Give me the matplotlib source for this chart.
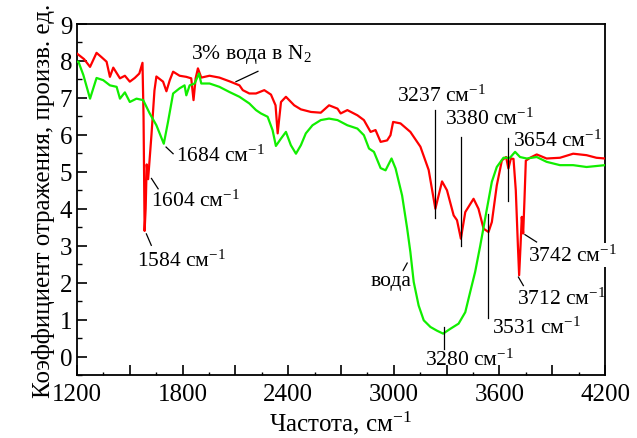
import matplotlib
matplotlib.use("Agg")
import matplotlib.pyplot as plt
from matplotlib.ticker import MultipleLocator

plt.rcParams['font.family'] = ['Liberation Serif', 'DejaVu Serif']
plt.rcParams['mathtext.fontset'] = 'custom'
plt.rcParams['mathtext.rm'] = 'Liberation Serif'
plt.rcParams['mathtext.it'] = 'Liberation Serif:italic'
plt.rcParams['mathtext.bf'] = 'Liberation Serif:bold'

# ---- data: 3% water in N2 (red) ----
red_x = [1200, 1240, 1274, 1311, 1340, 1368, 1387, 1406, 1444, 1472, 1500, 1528, 1554,
         1572, 1578, 1584, 1590, 1596, 1604, 1612, 1623, 1640, 1651, 1689, 1708, 1727,
         1746, 1783, 1821, 1849, 1862, 1874, 1887, 1906, 1953, 2009, 2066, 2123, 2142,
         2179, 2217, 2264, 2302, 2328, 2340, 2359, 2387, 2434, 2472, 2529, 2585, 2632,
         2680, 2698, 2736, 2793, 2830, 2868, 2896, 2925, 2962, 2981, 2996, 3038, 3094,
         3151, 3198, 3236, 3274, 3302, 3340, 3359, 3381, 3406, 3453, 3481, 3510, 3538,
         3557, 3585, 3614, 3638, 3651, 3665, 3680, 3693, 3705, 3712, 3720, 3727, 3735,
         3742, 3750, 3774, 3812, 3868, 3944, 4019, 4095, 4151, 4200]
red_y = [8.20, 8.05, 7.84, 8.22, 8.10, 7.98, 7.57, 7.82, 7.53, 7.60, 7.44, 7.54, 7.66,
         7.95, 6.50, 3.40, 4.00, 5.20, 4.80, 5.30, 6.00, 7.20, 7.58, 7.44, 7.18, 7.48,
         7.71, 7.60, 7.57, 7.53, 6.94, 7.53, 7.80, 7.55, 7.60, 7.55, 7.45, 7.34, 7.21,
         7.12, 7.12, 7.21, 7.09, 6.80, 6.04, 6.89, 7.03, 6.80, 6.69, 6.62, 6.60, 6.80,
         6.71, 6.58, 6.67, 6.53, 6.40, 6.08, 6.13, 5.81, 5.85, 5.99, 6.35, 6.31, 6.08,
         5.68, 5.05, 4.00, 4.74, 4.50, 3.82, 3.69, 3.19, 3.91, 4.27, 4.00, 3.46, 3.37,
         3.64, 4.63, 5.31, 5.40, 5.09, 5.36, 5.35, 4.50, 3.00, 2.20, 3.00, 3.78, 3.33,
         4.20, 5.30, 5.38, 5.47, 5.36, 5.38, 5.49, 5.45, 5.38, 5.36]

# ---- data: water (green) ----
green_x = [1200, 1208, 1236, 1274, 1311, 1349, 1387, 1425, 1444, 1472, 1500, 1538, 1576,
           1613, 1651, 1693, 1717, 1746, 1783, 1811, 1821, 1840, 1868, 1893, 1906, 1953,
           2009, 2066, 2123, 2179, 2217, 2245, 2283, 2311, 2330, 2359, 2387, 2415, 2444,
           2472, 2500, 2538, 2585, 2632, 2680, 2736, 2793, 2830, 2859, 2887, 2925, 2953,
           2987, 3010, 3047, 3076, 3094, 3113, 3141, 3170, 3208, 3245, 3280, 3321, 3368,
           3406, 3434, 3462, 3491, 3529, 3557, 3585, 3623, 3660, 3689, 3717, 3755, 3812,
           3868, 3944, 4019, 4095, 4200]
green_y = [7.98, 7.98, 7.62, 6.98, 7.54, 7.48, 7.34, 7.30, 6.98, 7.15, 6.89, 6.98, 6.94,
           6.58, 6.26, 5.76, 6.35, 7.12, 7.26, 7.34, 7.07, 7.34, 7.39, 7.66, 7.39, 7.39,
           7.30, 7.16, 7.03, 6.85, 6.67, 6.58, 6.49, 6.13, 5.70, 5.90, 6.08, 5.72, 5.49,
           5.72, 6.04, 6.26, 6.40, 6.44, 6.40, 6.26, 6.17, 5.99, 5.63, 5.54, 5.10, 5.04,
           5.36, 5.09, 4.36, 3.46, 2.83, 2.02, 1.38, 0.98, 0.80, 0.70, 0.62, 0.75, 0.89,
           1.20, 1.75, 2.29, 3.00, 4.00, 4.73, 5.13, 5.38, 5.38, 5.54, 5.40, 5.36, 5.40,
           5.27, 5.18, 5.18, 5.13, 5.18]

xticks = [1200, 1500, 1800, 2100, 2400, 2700, 3000, 3300, 3600, 3900, 4200]
xticklabels = ["1200", "", "1800", "", "2400", "", "3000", "", "3600", "", "4200"]
yticks = list(range(0, 10))

# annotations: (text, text_x, text_y, line_x0, line_y0, line_x1, line_y1)
annots = [
    ("3% вода в N$_2$", 1850, 8.20, 2103, 7.44, 2228, 7.72),
    ("1684 см$^{-1}$", 1764, 5.44, 1706, 5.67, 1746, 5.49),
    ("1604 см$^{-1}$", 1619, 4.23, 1623, 4.82, 1661, 4.54),
    ("1584 см$^{-1}$", 1538, 2.60, 1594, 3.32, 1622, 3.01),
    ("3237 см$^{-1}$", 3019, 7.07, 3236, 6.67, 3236, 3.75),
    ("3380 см$^{-1}$", 3292, 6.44, 3381, 5.95, 3381, 2.99),
    ("3654 см$^{-1}$", 3679, 5.85, 3651, 5.92, 3651, 4.20),
    ("3742 см$^{-1}$", 3764, 2.75, 3745, 3.30, 3811, 3.10),
    ("3712 см$^{-1}$", 3699, 1.58, 3708, 2.15, 3736, 1.92),
    ("3531 см$^{-1}$", 3557, 0.80, 3534, 3.87, 3534, 1.04),
    ("3280 см$^{-1}$", 3179, -0.06, 3283, 0.80, 3283, 0.21),
    ("вода", 2868, 2.06, 3053, 2.33, 3076, 2.53),
]

fig = plt.figure(figsize=(6.37, 4.39), dpi=100)
ax = fig.add_axes([0.1209, 0.1435, 0.8289, 0.7995])

ax.plot(red_x, red_y, color='#ff0000', lw=1.6, zorder=3)
ax.plot(green_x, green_y, color='#11ee00', lw=1.6, zorder=3)

for txt, tx, ty, x0, y0, x1, y1 in annots:
    ax.plot([x0, x1], [y0, y1], color='black', lw=0.9, zorder=4)
    kw = {}
    if txt.startswith("3742"):
        kw['bbox'] = dict(fc='white', ec='none', pad=1)
    ax.text(tx, ty, txt, fontsize=15.5, ha='left', va='center', zorder=6,
            clip_on=False, **kw)

ax.set_xlim(1200, 4200)
ax.set_ylim(-0.5, 9)
ax.set_xticks(xticks)
ax.set_xticklabels(xticklabels)
ax.set_yticks(yticks)
ax.xaxis.set_minor_locator(MultipleLocator(150))
ax.yaxis.set_minor_locator(MultipleLocator(0.5))
ax.tick_params(axis='both', which='major', direction='in', length=7, width=1.2,
               labelsize=18, top=False, right=False)
ax.tick_params(axis='x', which='minor', direction='in', length=2, width=1.0,
               top=False, right=False)
ax.tick_params(axis='y', which='minor', direction='in', length=3.5, width=1.0,
               top=False, right=False)
ax.tick_params(axis='x', which='major', pad=6)
for s in ax.spines.values():
    s.set_linewidth(1.3)

ax.set_xlabel("Частота, см$^{-1}$", fontsize=18, labelpad=2)
ax.set_ylabel("Коэффициент отражения, произв. ед.", fontsize=18, labelpad=3)

fig.savefig("out.png", dpi=100)
